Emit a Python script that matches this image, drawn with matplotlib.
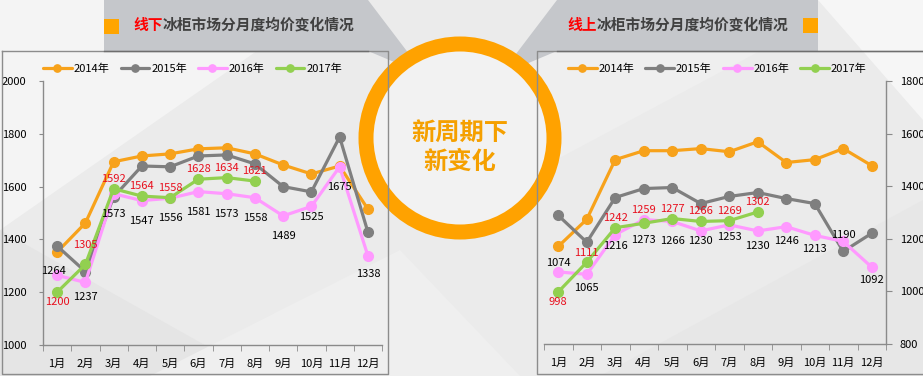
import matplotlib
matplotlib.use('Agg')
import matplotlib.pyplot as plt
from matplotlib.patches import Polygon, Rectangle, Circle

plt.rcParams['font.family'] = ['Noto Sans CJK SC', 'DejaVu Sans']

W, H = 923, 376

months = [f'{i}月' for i in range(1, 13)]
years = ['2014年', '2015年', '2016年', '2017年']
colors = ['#F7A21B', '#7F7F7F', '#FF99FF', '#92D050']

# 线下 (offline) monthly average price
offline_2014 = [1352, 1462, 1694, 1716, 1724, 1743, 1747, 1724, 1682, 1648, 1678, 1515]
offline_2015 = [1375, 1278, 1561, 1678, 1675, 1716, 1720, 1686, 1600, 1580, 1788, 1428]
offline_2016 = [1264, 1237, 1573, 1547, 1556, 1581, 1573, 1558, 1489, 1525, 1675, 1338]
offline_2017 = [1200, 1305, 1592, 1564, 1558, 1628, 1634, 1621]

# 线上 (online) monthly average price
online_2014 = [1171, 1274, 1501, 1535, 1535, 1543, 1531, 1569, 1490, 1501, 1543, 1478]
online_2015 = [1289, 1187, 1357, 1391, 1395, 1334, 1361, 1376, 1353, 1334, 1152, 1221]
online_2016 = [1074, 1065, 1216, 1273, 1266, 1230, 1253, 1230, 1246, 1213, 1190, 1092]
online_2017 = [998, 1111, 1242, 1259, 1277, 1266, 1269, 1302]

left_ticks = [1000, 1200, 1400, 1600, 1800, 2000]
right_ticks = [800, 1000, 1200, 1400, 1600, 1800]


def px_rect(x0, y0, x1, y1):
    return [x0 / W, 1 - y1 / H, (x1 - x0) / W, (y1 - y0) / H]


fig = plt.figure(figsize=(W / 100, H / 100), dpi=100)
fig.patch.set_facecolor('#ebebeb')

# background facets
bg = fig.add_axes([0, 0, 1, 1], zorder=0)
bg.set_xlim(0, W)
bg.set_ylim(H, 0)
bg.axis('off')
facets = [
    ([(0, 0), (330, 0), (0, 230)], '#f4f4f4'),
    ([(0, 230), (260, 376), (0, 376)], '#e5e5e5'),
    ([(150, 376), (400, 250), (520, 376)], '#efefef'),
    ([(818, 0), (923, 0), (923, 120)], '#f6f6f6'),
    ([(600, 376), (923, 200), (923, 376)], '#e7e7e7'),
    ([(537, 51), (760, 51), (537, 170)], '#efefef'),
]
for pts, c in facets:
    bg.add_patch(Polygon(pts, closed=True, facecolor=c, edgecolor='none'))

label_fs = 8


def draw_chart(rect, series, ylim, ticks, side, off2016, off2017, legend_x):
    ax = fig.add_axes(px_rect(*rect), zorder=2)
    ax.patch.set_alpha(0)
    x = list(range(1, 13))
    for vals, c, name in zip(series, colors, years):
        ax.plot(x[:len(vals)], vals, color=c, lw=2.3, marker='o', ms=7,
                label=name, solid_capstyle='round', clip_on=False)
    # data labels: 2016 black, 2017 red
    for i, v in enumerate(series[2]):
        dx, dy = off2016.get(i, (0, -20))
        ax.annotate(str(v), (x[i], v), xytext=(dx, dy), textcoords='offset pixels',
                    ha='center', va='center', fontsize=label_fs, color='black')
    for i, v in enumerate(series[3]):
        dx, dy = off2017.get(i, (0, 10))
        ax.annotate(str(v), (x[i], v), xytext=(dx, dy), textcoords='offset pixels',
                    ha='center', va='center', fontsize=label_fs, color='#E8101E')
    ax.set_xlim(0.5, 12.5)
    ax.set_ylim(*ylim)
    ax.set_yticks(ticks)
    ax.set_xticks(x)
    ax.set_xticklabels(months)
    ax.set_xticks([i + 0.5 for i in range(0, 13)], minor=True)
    for s in ax.spines.values():
        s.set_visible(False)
    ax.spines['bottom'].set_visible(True)
    ax.spines[side].set_visible(True)
    for s in ('bottom', side):
        ax.spines[s].set_color('#8a8a8a')
        ax.spines[s].set_linewidth(1)
    ax.tick_params(axis='x', which='major', length=0, pad=10, labelsize=label_fs)
    ax.tick_params(axis='x', which='minor', length=4, color='#8a8a8a', direction='out')
    if side == 'right':
        ax.yaxis.tick_right()
        ax.tick_params(axis='y', length=4, color='#8a8a8a', pad=6, labelsize=label_fs)
    else:
        ax.tick_params(axis='y', length=3, color='#8a8a8a', pad=9, labelsize=label_fs)
    ax.legend(loc='center left', bbox_to_anchor=(legend_x, 1.045), ncol=4, frameon=False,
              fontsize=label_fs, handlelength=2.6, handletextpad=0.15, columnspacing=1.0,
              borderaxespad=0, borderpad=0, markerscale=0.75)
    return ax


draw_chart((43, 81, 382, 345),
           [offline_2014, offline_2015, offline_2016, offline_2017],
           (1000, 2000), left_ticks, 'left',
           {0: (-4, 4), 1: (0, -15), 9: (0, -11), 11: (0, -18)},
           {0: (0, -10), 1: (0, 19)},
           0.0)

draw_chart((544, 81, 886, 344),
           [online_2014, online_2015, online_2016, online_2017],
           (800, 1800), right_ticks, 'right',
           {0: (0, 9), 1: (0, -14), 2: (0, -11), 5: (0, -10), 6: (0, -12),
            7: (0, -15), 8: (0, -14), 9: (0, -14), 10: (0, 6), 11: (0, -13)},
           {0: (0, -10), 1: (0, 9), 3: (0, 13)},
           0.07)

# overlay: panels, banners, circle
ov = fig.add_axes([0, 0, 1, 1], zorder=5)
ov.set_xlim(0, W)
ov.set_ylim(H, 0)
ov.axis('off')
ov.patch.set_alpha(0)

edge = '#8c8c8c'
ov.plot([2, 388, 388, 2, 2], [51, 51, 374, 374, 51], color=edge, lw=1)
ov.plot([923, 537, 537, 923], [51, 51, 374, 374], color=edge, lw=1)

banner = '#c5c7cb'
ov.add_patch(Polygon([(104, 0), (368, 0), (425, 75), (368, 51), (104, 51)],
                     closed=True, facecolor=banner, edgecolor='none'))
ov.add_patch(Polygon([(818, 0), (557, 0), (500, 75), (557, 51), (818, 51)],
                     closed=True, facecolor=banner, edgecolor='none'))
ov.plot([104, 368], [51, 51], color='#6e6e6e', lw=1)
ov.plot([557, 923], [51, 51], color='#6e6e6e', lw=1)
ov.add_patch(Rectangle((104, 19), 15, 15, facecolor='#FFA500', edgecolor='none'))
ov.add_patch(Rectangle((803, 18), 15, 15, facecolor='#FFA500', edgecolor='none'))

title_fs = 10.6
ov.text(133, 25, '线下', color='#FF0000', fontsize=title_fs, fontweight='bold',
        ha='left', va='center')
ov.text(162.6, 25, '冰柜市场分月度均价变化情况', color='#404040', fontsize=title_fs,
        fontweight='bold', ha='left', va='center')
ov.text(567, 25, '线上', color='#FF0000', fontsize=title_fs, fontweight='bold',
        ha='left', va='center')
ov.text(596.6, 25, '冰柜市场分月度均价变化情况', color='#404040', fontsize=title_fs,
        fontweight='bold', ha='left', va='center')

ov.add_patch(Circle((460, 138), 94, facecolor='#f2f2f2', edgecolor='#FFA200', lw=10.8))
ov.text(460, 133, '新周期下', color='#F5A000', fontsize=17.5, fontweight='bold',
        ha='center', va='center')
ov.text(460, 162, '新变化', color='#F5A000', fontsize=17.5, fontweight='bold',
        ha='center', va='center')

fig.savefig('out.png', dpi=100, facecolor=fig.get_facecolor())
